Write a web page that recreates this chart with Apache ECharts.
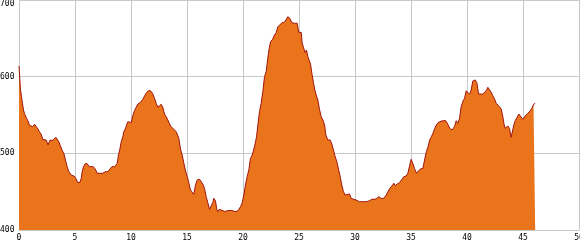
<!DOCTYPE html>
<html>
<head>
<meta charset="utf-8">
<script src="https://cdn.jsdelivr.net/npm/echarts@6/dist/echarts.min.js"></script>
<style>
html,body{margin:0;padding:0;background:#fff;}
#c{width:580px;height:250px;}
</style>
</head>
<body>
<div id="c"></div>
<script>
const distance = [0,0.13,0.22,0.31,0.40,0.49,0.58,0.67,0.79,0.94,1.09,1.23,1.38,1.53,1.68,1.83,1.98,2.13,2.43,2.60,2.75,3.02,3.17,3.29,3.41,3.56,3.71,3.85,4.00,4.15,4.30,4.45,4.66,4.90,5.07,5.25,5.43,5.55,5.64,5.76,5.91,6.09,6.27,6.41,6.62,6.80,6.98,7.22,7.48,7.69,7.93,8.08,8.29,8.53,8.68,8.77,8.88,9.00,9.13,9.27,9.36,9.48,9.63,9.72,9.84,10.02,10.16,10.31,10.46,10.61,10.85,11.05,11.21,11.38,11.56,11.74,11.92,12.10,12.25,12.40,12.54,12.69,12.84,12.99,13.14,13.29,13.44,13.59,13.79,14.04,14.18,14.27,14.42,14.57,14.72,14.87,15.02,15.16,15.31,15.46,15.61,15.76,15.91,16.12,16.21,16.41,16.56,16.71,16.86,17.01,17.16,17.30,17.39,17.54,17.66,17.75,17.88,18.05,18.35,18.65,18.94,19.24,19.48,19.63,19.78,19.93,20.07,20.22,20.37,20.52,20.67,20.79,20.91,21.06,21.21,21.33,21.47,21.62,21.77,21.92,22.07,22.21,22.34,22.46,22.64,22.81,22.96,23.11,23.29,23.47,23.65,23.83,24.00,24.09,24.18,24.36,24.60,24.84,24.98,25.20,25.28,25.40,25.55,25.67,25.79,25.94,26.03,26.15,26.30,26.41,26.54,26.68,26.83,26.98,27.13,27.28,27.40,27.57,27.78,27.93,28.08,28.23,28.38,28.53,28.68,28.82,28.97,29.13,29.30,29.51,29.66,29.89,30.10,30.40,30.70,31.00,31.29,31.50,31.89,32.10,32.34,32.57,32.79,32.93,33.11,33.29,33.47,33.59,33.77,33.97,34.13,34.36,34.57,34.72,34.87,35.01,35.16,35.31,35.49,35.67,35.85,36.06,36.21,36.37,36.52,36.67,36.82,36.96,37.12,37.27,37.41,37.59,37.86,38.10,38.25,38.46,38.66,38.77,38.88,39.04,39.18,39.33,39.48,39.66,39.78,39.93,40.07,40.25,40.37,40.52,40.73,40.88,41.03,41.21,41.41,41.56,41.71,41.86,42.01,42.16,42.30,42.46,42.61,42.75,42.90,43.05,43.20,43.29,43.41,43.53,43.64,43.79,43.94,44.06,44.18,44.30,44.48,44.63,44.78,44.98,45.20,45.43,45.64,45.82,45.94,46.09];
const elevation = [614,583.5,574,565,556.5,552,549,545.7,542.6,536.5,534,534.8,538,536.5,532,528,525,518,517.4,511,517,517,515,521,519.6,515,514,504,500,491.3,482.6,476,471.7,470.4,467.4,462,462,467,476,482.6,486.5,486.5,482.6,484,482.6,480,474,474,474,476,476,477,482.6,482.6,484.8,487,497.8,505.2,515.2,521.7,528.2,531.7,533.4,541.3,542.6,540,549,555.6,560,564.3,566.5,570.4,574.8,579,581.7,581.7,578.3,571.7,565.2,560,560.9,564,560,551.3,547.8,543.5,538.3,534.8,531.7,528.2,526.1,519.6,505.6,497.8,487,477,469.6,461.7,452.2,450.9,446.5,458.7,465.2,466.1,464.3,460,454.4,443.5,435.6,427,427,435.6,441.3,438.3,427,423.9,427,425.2,424.3,425.2,425.6,424.3,424.3,427,430.4,435.6,445.6,458.7,469.6,478.3,493.5,496.5,502.2,510.9,521.7,537,554.3,565.2,580.4,600,606.5,623.9,637,645.6,648.7,654.3,657.4,665.2,667.4,670.4,670.4,673.9,678.2,680.4,676.1,670.4,669.6,669.6,657.8,657.8,643.8,638.3,631.3,634.8,626.1,623.9,616.5,604.4,591.3,582.6,576.1,569.6,557.4,547.8,543.5,537,523.9,517.4,517.4,512.2,504.3,495.6,489.1,479.1,469.6,458.7,450,445.6,445.6,447,441.3,440,439.1,436.9,436.9,436.9,438.2,440,440.4,443.5,441.3,441.3,445.6,447.8,454.4,457.4,460.9,457.8,460,461.7,464.3,469.6,470.4,474,483.5,492.2,487,480.4,474,477.4,479.6,480.4,491.3,502.2,508.7,517.4,521.7,526.1,532.6,537,540,541.3,542.6,542.6,539.1,532.6,530.4,528.2,534.8,542.6,539.1,545.6,560.9,568.7,571.7,581.7,579,577.4,582.6,594.3,595.7,592.2,577.4,577.4,577.4,575.2,581.7,586.1,583.9,579.6,575.2,570.9,565.2,563,560.9,557.8,547.8,539.1,532.6,532.6,535.6,532.6,520.9,521.7,537,542.6,547,551.3,548.7,544.3,548.7,552.2,555.2,559.5,563.9,565.2];
const xTicks = {min: 0, max: 50, interval: 5};
const yTicks = {min: 400, max: 700, interval: 100};

const points = distance.map((d, i) => [d, elevation[i]]);
const chart = echarts.init(document.getElementById('c'), null, {renderer: 'canvas'});
const labelFont = {fontFamily: 'DejaVu Sans Mono', fontSize: 8, color: '#000'};
chart.setOption({
  animation: false,
  backgroundColor: '#fff',
  grid: {left: 19, right: 1, top: 0, bottom: 20, containLabel: false, outerBoundsMode: 'none'},
  xAxis: {
    type: 'value', min: xTicks.min, max: xTicks.max, interval: xTicks.interval,
    axisLine: {show: true, lineStyle: {color: '#c8c8c8', width: 1}},
    axisTick: {show: false},
    splitLine: {show: true, lineStyle: {color: '#c8c8c8', width: 1}},
    axisLabel: Object.assign({margin: 4, showMaxLabel: true, hideOverlap: false}, labelFont)
  },
  yAxis: {
    type: 'value', min: yTicks.min, max: yTicks.max, interval: yTicks.interval,
    axisLine: {show: true, lineStyle: {color: '#c8c8c8', width: 1}},
    axisTick: {show: false},
    splitLine: {show: true, lineStyle: {color: '#c8c8c8', width: 1}},
    axisLabel: Object.assign({margin: 19, align: 'left', verticalAlignMaxLabel: 'top'}, labelFont)
  },
  series: [{
    type: 'line',
    data: points,
    showSymbol: false,
    symbol: 'none',
    lineStyle: {color: '#a0140c', width: 1},
    areaStyle: {color: '#ea741c', opacity: 1, origin: 'start'},
    z: 3
  }]
});
</script>
</body>
</html>
